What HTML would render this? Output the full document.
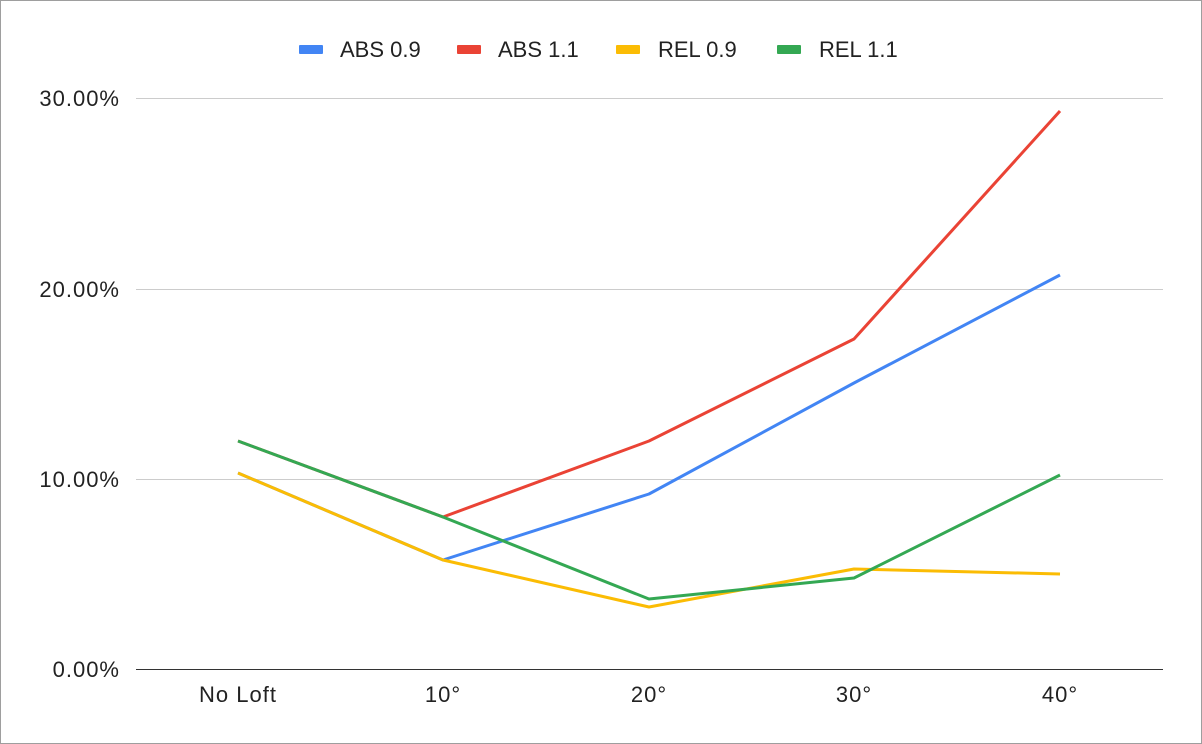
<!DOCTYPE html>
<html><head><style>body{margin:0;background:#fff}</style></head><body>
<svg width="1202" height="744" xmlns="http://www.w3.org/2000/svg" style="display:block;font-family:'Liberation Sans',Arial,sans-serif">
<rect x="0.5" y="0.5" width="1201" height="743" fill="#fff" stroke="#9e9e9e"/>
<g stroke="#cccccc" stroke-width="1">
<line x1="136" y1="98.5" x2="1163" y2="98.5"/>
<line x1="136" y1="289.5" x2="1163" y2="289.5"/>
<line x1="136" y1="479.5" x2="1163" y2="479.5"/>
</g>
<line x1="136" y1="669.5" x2="1163" y2="669.5" stroke="#333" stroke-width="1"/>
<g font-size="22" fill="#222" text-anchor="end" letter-spacing="1">
<text x="120" y="106">30.00%</text>
<text x="120" y="297">20.00%</text>
<text x="120" y="487">10.00%</text>
<text x="120" y="677">0.00%</text>
</g>
<g font-size="22" fill="#222" text-anchor="middle" letter-spacing="1">
<text x="238" y="702">No Loft</text>
<text x="443" y="702">10°</text>
<text x="649" y="702">20°</text>
<text x="854" y="702">30°</text>
<text x="1060" y="702">40°</text>
</g>
<g fill="none" stroke-width="3" stroke-linejoin="round">
<polyline stroke="#4285f4" points="238,473 443,560 649,494 854,383 1060,275"/>
<polyline stroke="#ea4335" points="238,441 443,517 649,441 854,339 1060,111"/>
<polyline stroke="#fbbc04" points="238,473 443,560 649,607 854,569 1060,574"/>
<polyline stroke="#34a853" points="238,441 443,517 649,599 854,578 1060,475"/>
</g>
<g font-size="22" fill="#222">
<rect x="299" y="45" width="24" height="9" rx="1" fill="#4285f4"/><text x="340" y="57">ABS 0.9</text>
<rect x="457" y="45" width="24" height="9" rx="1" fill="#ea4335"/><text x="498" y="57">ABS 1.1</text>
<rect x="616" y="45" width="24" height="9" rx="1" fill="#fbbc04"/><text x="658" y="57">REL 0.9</text>
<rect x="777" y="45" width="24" height="9" rx="1" fill="#34a853"/><text x="819" y="57">REL 1.1</text>
</g>
</svg>
</body></html>
